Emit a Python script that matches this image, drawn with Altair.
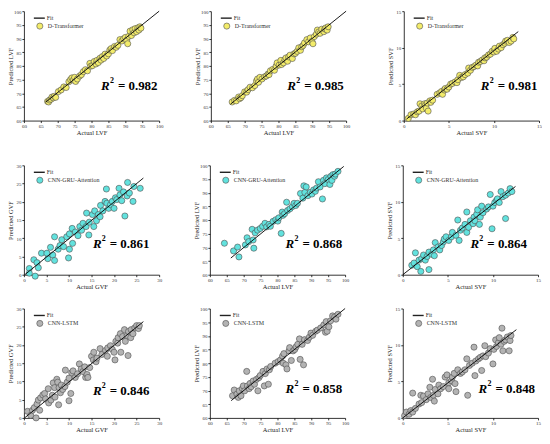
import altair as alt
import pandas as pd

FONT = "Liberation Serif"

# ---------------- data (actual, predicted) ----------------
p1_dt_lvf = [(67.0,67.0),(67.3,66.8),(67.6,67.5),(68.0,67.8),(68.3,68.6),(68.7,68.3),(69.0,68.9),(69.4,68.5),
             (70.2,70.6),(71.0,71.2),(71.8,72.3),(72.5,72.1),(73.3,74.2),(73.8,75.0),(74.2,75.6),(74.6,74.8),
             (75.0,75.8),(75.3,74.3),(75.8,75.2),(76.5,76.3),(77.0,76.8),(77.6,77.9),(78.2,78.6),(78.8,78.2),
             (79.5,80.9),(79.8,79.9),(80.3,80.1),(80.8,81.6),(81.3,80.7),(81.6,82.0),(82.0,81.2),(82.5,82.8),
             (82.8,82.1),(83.2,83.4),(83.6,82.7),(84.0,84.3),(84.5,83.6),(85.0,84.4),(85.4,85.8),(85.8,86.3),
             (86.2,85.6),(86.8,87.1),(87.3,86.8),(87.8,87.5),(88.4,89.6),(89.0,89.1),(89.5,89.9),(90.0,90.4),
             (90.4,89.4),(90.7,88.1),(91.0,90.8),(91.4,92.7),(91.8,91.1),(92.2,93.2),(92.6,92.1),(92.9,93.6),
             (93.3,92.5),(93.7,93.9),(94.0,93.1),(94.3,94.3),(94.6,93.8)]
p2_dt_lvf = [(66.3,66.8),(67.0,67.4),(67.5,67.2),(68.2,68.6),(68.5,68.0),(68.9,68.4),(69.3,69.1),(70.0,70.5),
             (70.6,70.4),(71.0,71.3),(71.6,72.2),(72.3,72.0),(73.0,72.8),(73.5,74.5),(73.8,75.2),(74.1,74.0),
             (74.5,75.8),(75.1,75.2),(75.9,76.0),(76.4,76.3),(76.9,77.0),(77.2,76.8),(77.6,78.2),(78.3,78.7),
             (78.8,78.4),(79.3,79.9),(79.6,81.1),(80.2,80.3),(80.7,82.0),(80.9,80.5),(81.5,81.1),(81.9,82.3),
             (82.2,82.9),(82.7,81.7),(83.0,83.3),(83.4,83.9),(84.1,82.7),(84.6,84.4),(85.0,84.6),(85.5,85.3),
             (86.0,86.6),(86.5,85.7),(86.9,87.0),(87.3,87.5),(87.7,88.4),(88.4,89.6),(88.9,88.8),(89.4,90.2),
             (89.9,89.0),(90.2,88.1),(90.6,90.7),(91.2,91.6),(91.5,93.1),(91.9,92.4),(92.3,91.9),(92.8,93.4),
             (93.4,92.5),(93.7,93.5),(94.0,93.9),(94.4,93.1),(94.7,94.3)]
p3_dt_svf = [(0.5,0.3),(0.8,0.8),(1.1,0.9),(1.3,0.8),(1.5,1.2),(1.7,1.3),(1.8,2.3),(2.0,2.0),(2.1,1.6),
             (2.3,2.3),(2.4,2.1),(2.5,1.7),(2.6,2.4),(2.7,1.3),(2.9,2.7),(3.0,2.5),(3.2,2.8),(3.7,3.6),
             (4.0,3.8),(4.2,4.0),(4.3,3.6),(4.5,4.2),(4.6,4.4),(4.8,4.3),(5.0,4.6),(5.2,5.0),(5.4,5.1),
             (5.7,5.3),(5.9,5.2),(6.0,5.6),(6.2,6.2),(6.4,5.9),(6.6,6.0),(6.8,6.3),(7.1,6.5),(7.2,7.2),
             (7.4,6.9),(7.6,7.3),(7.8,7.4),(8.0,7.6),(8.2,7.5),(8.3,8.0),(8.5,8.1),(8.7,8.3),(8.9,8.2),
             (9.0,8.6),(9.2,8.7),(9.4,9.0),(9.6,9.1),(9.8,9.5),(10.0,9.4),(10.1,9.9),(10.3,9.5),(10.5,9.8),
             (10.6,10.2),(10.8,10.0),(11.0,10.4),(11.2,10.6),(11.3,10.9),(11.5,11.0),(11.7,10.7),(11.9,10.9),
             (12.1,11.4),(12.2,11.2)]
p4_cga_gvf = [(1.2,1.7),(1.2,0.4),(2.2,4.1),(2.5,-0.4),(2.9,3.3),(3.2,1.9),(3.9,5.9),(5.3,4.4),(5.1,5.9),
              (5.9,7.5),(6.4,5.4),(6.8,3.9),(6.8,10.4),(7.6,7.0),(8.0,8.0),(8.4,9.6),(8.8,7.7),(9.5,10.4),
              (9.9,4.6),(10.1,7.0),(10.1,11.2),(10.7,12.7),(10.8,8.6),(11.4,11.7),(12.0,10.7),(12.4,13.2),
              (12.8,12.2),(13.1,14.1),(13.8,13.2),(13.9,16.9),(14.4,10.9),(14.5,14.4),(15.2,16.5),(15.5,13.2),
              (15.7,17.5),(16.1,14.8),(16.5,16.5),(16.9,15.9),(17.0,19.0),(17.5,17.5),(18.0,20.1),(18.3,23.5),
              (18.4,19.6),(18.8,18.2),(19.2,19.2),(19.6,20.1),(20.0,18.2),(20.3,21.1),(20.6,20.6),(21.1,23.7),
              (21.3,21.9),(21.7,20.3),(22.1,22.7),(22.4,16.1),(22.9,21.6),(23.0,25.3),(23.4,22.4),(24.2,20.1),
              (24.4,24.2),(25.8,23.7)]
p5_cga_lvf = [(64.3,71.5),(67.0,68.7),(68.2,70.1),(68.6,66.5),(70.5,70.9),(71.0,73.5),(71.5,72.1),(72.5,76.6),
              (72.8,72.7),(73.0,69.7),(73.4,75.3),(74.1,76.3),(74.9,76.9),(75.6,77.7),(76.3,78.8),(76.8,77.5),
              (77.5,78.4),(77.9,77.7),(78.7,79.5),(79.5,80.1),(80.1,79.6),(80.4,80.8),(81.1,75.1),(81.4,82.9),
              (81.6,81.7),(82.1,82.3),(82.7,86.5),(83.0,83.5),(83.7,84.1),(84.4,84.9),(84.9,86.1),(85.4,85.3),
              (85.9,86.1),(86.8,89.7),(87.5,88.0),(87.8,92.5),(88.1,90.1),(88.5,92.1),(89.0,88.9),(89.7,90.1),
              (90.2,89.5),(90.7,91.0),(91.2,90.5),(91.6,91.7),(92.1,94.0),(92.6,92.1),(93.3,87.7),(93.6,94.5),
              (94.0,93.3),(94.5,95.4),(95.0,94.8),(95.5,93.0),(95.8,96.0),(96.1,94.5),(96.4,96.6),(96.9,96.0),
              (97.1,96.8),(97.9,97.8)]
p6_cga_svf = [(1.0,1.3),(1.25,1.6),(1.4,3.0),(1.6,1.1),(1.8,2.0),(2.0,0.45),(2.1,2.2),(2.3,2.7),(2.5,2.0),
              (2.7,2.5),(2.9,3.1),(2.9,0.7),(3.2,2.8),(3.4,3.4),(3.5,2.6),(3.6,4.4),(3.9,3.8),(4.1,3.4),
              (4.3,4.0),(4.5,4.5),(4.6,4.9),(4.8,5.2),(5.1,4.7),(5.4,5.2),(5.5,5.8),(5.9,5.4),(6.1,7.5),
              (6.25,4.7),(6.4,6.1),(6.6,6.4),(6.9,6.9),(7.1,5.8),(7.1,8.6),(7.3,6.5),(7.5,7.4),(7.8,7.0),
              (7.9,7.9),(8.0,7.4),(8.2,8.3),(8.3,8.9),(8.5,6.9),(8.6,7.9),(8.75,9.4),(8.9,8.5),(9.3,9.0),
              (9.5,9.3),(9.7,11.0),(9.9,6.3),(10.0,9.4),(10.2,9.9),(10.4,10.2),(10.5,10.4),(10.7,9.9),
              (10.9,11.4),(11.1,10.7),(11.4,7.7),(11.4,10.9),(11.7,11.2),(11.9,11.8),(12.1,11.4)]
p7_cl_gvf = [(0.8,1.8),(1.5,0.7),(1.9,2.1),(2.3,2.8),(2.7,0.0),(2.9,3.8),(3.2,4.9),(3.5,2.1),(3.7,5.5),
             (4.2,6.3),(4.6,6.7),(4.8,5.2),(5.4,8.0),(5.5,4.1),(6.0,4.9),(6.3,6.2),(6.5,9.6),(6.8,8.3),
             (6.9,5.7),(7.3,10.6),(7.5,9.8),(7.7,3.6),(7.8,8.3),(8.1,6.9),(8.3,9.0),(8.6,7.8),(9.1,8.6),
             (9.2,13.1),(9.6,9.8),(10.0,10.9),(10.0,4.7),(10.4,6.7),(10.6,12.4),(10.9,12.9),(11.4,11.1),
             (11.9,12.1),(12.3,14.8),(12.7,13.4),(13.1,12.7),(13.5,14.0),(13.7,11.1),(14.0,11.9),(14.2,11.1),
             (14.6,13.8),(15.0,16.9),(15.4,15.9),(15.5,18.0),(16.0,15.4),(16.2,16.4),(16.9,19.0),(17.3,17.4),
             (18.1,18.5),(18.5,16.9),(18.6,19.2),(19.2,19.8),(19.6,18.8),(20.0,18.0),(20.2,15.9),(20.4,21.0),
             (20.8,20.5),(20.9,22.0),(21.4,23.1),(21.5,18.0),(21.9,22.3),(22.3,24.2),(22.5,21.0),(22.9,22.6),
             (23.1,17.1),(23.2,23.7),(23.7,22.0),(23.8,24.2),(24.2,23.1),(24.6,24.7),(25.0,25.3),(25.4,24.5),
             (25.6,25.3)]
p8_cl_lvf = [(66.7,68.1),(67.2,70.2),(68.0,68.7),(68.4,67.5),(68.7,69.9),(69.2,68.1),(69.6,70.7),(69.9,71.7),
             (70.3,69.9),(70.9,77.0),(71.1,71.7),(71.6,70.7),(71.9,72.6),(72.2,71.4),(72.8,73.5),(73.2,72.3),
             (73.8,74.1),(74.2,69.9),(74.5,74.7),(74.9,75.5),(75.7,77.0),(76.1,71.7),(76.4,76.2),(76.9,77.9),
             (77.3,72.3),(77.6,77.6),(78.0,78.8),(79.3,80.0),(80.2,80.6),(80.9,81.2),(81.5,82.6),(81.7,80.0),
             (81.9,83.5),(82.5,79.4),(82.8,77.9),(83.4,84.5),(83.6,85.7),(84.1,81.0),(84.6,84.5),(85.1,85.0),
             (85.5,86.0),(86.0,86.9),(86.5,88.9),(86.7,81.4),(87.3,86.9),(87.7,79.4),(88.0,88.6),(88.9,88.3),
             (89.4,89.5),(89.9,91.0),(90.4,90.2),(91.3,91.7),(91.8,92.1),(92.8,92.9),(93.7,94.0),(94.2,91.3),
             (94.4,95.2),(94.7,91.7),(95.2,93.3),(95.7,95.5),(96.3,97.3),(96.9,96.9),(97.3,96.1),(97.9,97.9)]
p9_cl_svf = [(0.2,0.3),(0.4,0.8),(0.7,0.5),(0.9,1.0),(1.1,3.4),(1.1,0.8),(1.4,1.3),(1.8,1.9),(2.0,3.1),
             (2.1,2.1),(2.3,3.0),(2.6,2.5),(2.8,3.3),(3.0,4.2),(3.1,2.8),(3.3,5.3),(3.4,3.1),(3.5,2.3),
             (3.6,3.9),(3.9,3.3),(4.0,4.5),(4.2,4.0),(4.5,4.3),(4.7,5.6),(4.9,5.9),(5.1,4.8),(5.1,4.0),
             (5.4,5.1),(5.5,5.6),(5.7,6.1),(5.8,4.7),(5.9,3.6),(6.1,6.6),(6.4,6.1),(6.6,6.3),(6.9,6.6),
             (7.1,8.1),(7.2,3.1),(7.4,7.2),(7.7,7.5),(7.9,9.7),(8.0,5.8),(8.1,7.8),(8.4,8.1),(8.6,8.3),
             (8.75,6.5),(8.9,8.5),(9.1,9.9),(9.2,8.4),(9.5,8.9),(9.7,9.5),(10.0,7.4),(10.1,9.4),(10.3,10.7),
             (10.4,9.8),(10.6,10.3),(10.7,11.0),(10.9,10.1),(11.0,12.3),(11.1,9.2),(11.25,10.5),(11.4,10.7),
             (11.6,11.1),(11.8,9.2),(11.9,10.6),(12.0,11.3)]

# fit line end points (x0, y0, x1, y1)
fits = [(66.5,66.8,100,100),(65.8,66.0,100,100),(0.3,0.2,12.7,12.2),
        (0.2,0.0,26.5,26.5),(66.2,66.1,99.6,99.6),(0.0,0.0,12.5,12.1),
        (0.15,0.0,26.5,26.4),(66.3,66.3,100,100),(0.0,0.0,12.6,12.1)]
r2_vals = ["0.982","0.985","0.981","0.861","0.868","0.864","0.846","0.858","0.848"]
models = ["D-Transformer","CNN-GRU-Attention","CNN-LSTM"]
variables = ["LVF","LVF","SVF","GVF","LVF","SVF","GVF","LVF","SVF"]
lvf_ticks = [60,65,70,75,80,85,90,95,100]
gvf_ticks = [0,5,10,15,20,25,30]
svf_ticks = [0,5,10,15]

FILLS = ["#F3EC6A", "#62E2DE", "#B3B3B3"]
STROKE = "#4d4d4d"
W, H = 136, 110
PSIZE = 38


def panel(pairs, model, var, fit, r2, fill, tx, ty):
    if var == "LVF":
        lo, hi, ticks = 60, 100, lvf_ticks
    elif var == "GVF":
        lo, hi, ticks = 0, 30, gvf_ticks
    else:
        lo, hi, ticks = 0, 15, svf_ticks
    df = pd.DataFrame(pairs, columns=["a", "p"])
    sx = alt.Scale(domain=[lo, hi], nice=False, zero=False)
    sy = alt.Scale(domain=[lo, hi], nice=False, zero=False)
    ax = alt.Axis(values=ticks, title=f"Actual {var}", labelOverlap=False, labelFlush=False)
    ay = alt.Axis(values=ticks, title=f"Predicted {var}", labelOverlap=False, labelFlush=False)
    enc = dict(x=alt.X("a:Q", scale=sx, axis=ax), y=alt.Y("p:Q", scale=sy, axis=ay))
    pts = alt.Chart(df).mark_circle(size=PSIZE, fill=fill, stroke=STROKE, strokeWidth=0.6,
                                    opacity=1, fillOpacity=1).encode(**enc)
    fdf = pd.DataFrame({"a": [fit[0], fit[2]], "p": [fit[1], fit[3]]})
    line = alt.Chart(fdf).mark_line(color="black", strokeWidth=0.9).encode(**enc)
    tdf = pd.DataFrame({"a": [lo + tx * (hi - lo)], "p": [lo + ty * (hi - lo)]})
    tR = alt.Chart(tdf).mark_text(text="R", font=FONT, fontSize=13, fontWeight="bold",
                                  fontStyle="italic", align="left", baseline="middle",
                                  color="black").encode(**enc)
    t2 = alt.Chart(tdf).mark_text(text="2", font=FONT, fontSize=8, fontWeight="bold",
                                  align="left", baseline="middle", dx=9, dy=-5,
                                  color="black").encode(**enc)
    tv = alt.Chart(tdf).mark_text(text=f"= {r2}", font=FONT, fontSize=13, fontWeight="bold",
                                  align="left", baseline="middle", dx=17,
                                  color="black").encode(**enc)
    one = pd.DataFrame({"k": [0]})
    lg_line = alt.Chart(one).mark_rule(color="#222", strokeWidth=1.4).encode(
        x=alt.value(10), x2=alt.value(21), y=alt.value(7))
    lg_fit = alt.Chart(one).mark_text(text="Fit", font=FONT, fontSize=6, align="left",
                                      baseline="middle", color="#333").encode(
        x=alt.value(23), y=alt.value(7))
    lg_pt = alt.Chart(one).mark_circle(size=PSIZE, fill=fill, stroke=STROKE, strokeWidth=0.6,
                                       opacity=1, fillOpacity=1).encode(
        x=alt.value(16), y=alt.value(15))
    lg_lab = alt.Chart(one).mark_text(text=model, font=FONT, fontSize=6, align="left",
                                      baseline="middle", color="#333").encode(
        x=alt.value(24), y=alt.value(15))
    return alt.layer(pts, line, tR, t2, tv, lg_line, lg_fit, lg_pt, lg_lab).properties(
        width=W, height=H)


data = [p1_dt_lvf, p2_dt_lvf, p3_dt_svf, p4_cga_gvf, p5_cga_lvf, p6_cga_svf,
        p7_cl_gvf, p8_cl_lvf, p9_cl_svf]
text_pos = [(0.57, 0.315), (0.565, 0.315), (0.57, 0.315),
            (0.51, 0.28), (0.56, 0.28), (0.50, 0.28),
            (0.51, 0.25), (0.56, 0.26), (0.56, 0.26)]

panels = []
for i in range(9):
    panels.append(panel(data[i], models[i // 3], variables[i], fits[i], r2_vals[i],
                        FILLS[i // 3], text_pos[i][0], text_pos[i][1]))


def row(a, b, c):
    return alt.hconcat(alt.hconcat(a, b, spacing=32), c, spacing=38)


r1 = row(*panels[0:3])
r2 = row(*panels[3:6])
r3 = row(*panels[6:9])

chart = alt.vconcat(alt.vconcat(r1, r2, spacing=27), r3, spacing=16).properties(
    padding=0
).configure_view(stroke=None).configure_axis(
    grid=False, labelFont=FONT, labelFontSize=5, labelColor="#333",
    labelOverlap=False, labelFlush=False,
    titleFont=FONT, titleFontSize=6.5, titleFontWeight="normal", titleColor="#222",
    tickSize=2, tickColor="#000", tickWidth=0.8, domainColor="#000", domainWidth=0.8,
    labelPadding=1, titlePadding=1
).configure_axisY(minExtent=9, maxExtent=9)

chart.save("out.html", embed_options={"renderer": "svg", "actions": False})
